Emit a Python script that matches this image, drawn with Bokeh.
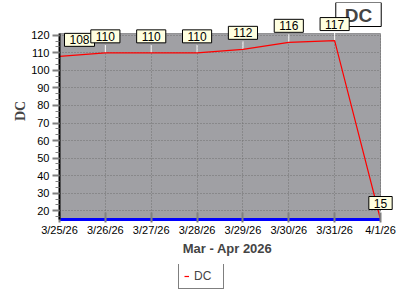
from bokeh.plotting import figure
from bokeh.layouts import column
from bokeh.models import (ColumnDataSource, Label, Legend, LegendItem,
                          FixedTicker, Range1d, BoxAnnotation)
from bokeh.embed import file_html
from bokeh.resources import INLINE

# ---- data ----
dates = ["3/25/26", "3/26/26", "3/27/26", "3/28/26", "3/29/26", "3/30/26", "3/31/26", "4/1/26"]
dc_values = [108, 110, 110, 110, 112, 116, 117, 15]
y_ticks = [20, 30, 40, 50, 60, 70, 80, 90, 100, 110, 120]
y_min, y_max = 15, 121
series_name = "DC"
x_title = "Mar - Apr 2026"

xs = list(range(len(dates)))
x_lo, x_hi = xs[0], xs[-1]
src = ColumnDataSource(dict(x=xs, y=dc_values,
                            ytop=[v + 4.6 for v in dc_values]))

FONT = "Liberation Sans"

# frame extends above/right of the plotting area so value labels and the title box are not clipped
p = figure(width=400, height=264, output_backend="svg", toolbar_location=None,
           x_range=Range1d(x_lo, x_hi + 0.327), y_range=Range1d(y_min, 138.7),
           min_border_left=59, min_border_right=5, min_border_top=2,
           min_border_bottom=45)
p.title.visible = False
p.background_fill_color = "white"
p.border_fill_color = "white"
p.outline_line_color = None

# gray plotting area
p.add_layout(BoxAnnotation(bottom=y_min, top=y_max, left=x_lo, right=x_hi,
                           fill_color="#A0A0A4", fill_alpha=1,
                           line_color="black", line_width=1, level="image"))

# grids
for g in (p.xgrid, p.ygrid):
    g.grid_line_color = "#707070"
    g.grid_line_dash = "1 2"
    g.grid_line_width = 1
p.xgrid.ticker = FixedTicker(ticks=xs)
p.xgrid.cross_bounds = (y_min, y_max)
p.ygrid.ticker = FixedTicker(ticks=y_ticks)
p.ygrid.cross_bounds = (x_lo, x_hi)

# x axis
xa = p.xaxis[0]
xa.bounds = (x_lo, x_hi)
xa.ticker = FixedTicker(ticks=xs)
xa.major_label_overrides = {i: d for i, d in enumerate(dates)}
xa.axis_line_color = "#0000FF"
xa.axis_line_width = 3
xa.major_tick_line_color = "#808080"
xa.major_tick_line_width = 2
xa.major_tick_in = 7
xa.major_tick_out = 3
xa.minor_tick_line_color = None
xa.major_label_text_font = FONT
xa.major_label_text_font_size = "11px"
xa.major_label_text_color = "black"
xa.major_label_standoff = 1
xa.axis_label = x_title
xa.axis_label_text_font = FONT
xa.axis_label_text_font_style = "bold"
xa.axis_label_text_font_size = "13px"
xa.axis_label_standoff = 2

# y axis
ya = p.yaxis[0]
ya.bounds = (y_min, y_max)
ya.ticker = FixedTicker(ticks=y_ticks, minor_ticks=[v / 3 * 10 for v in range(5, 37)])
ya.axis_line_color = "black"
ya.axis_line_width = 2
ya.major_tick_line_color = "#808080"
ya.major_tick_line_width = 2
ya.major_tick_in = 0
ya.major_tick_out = 7
ya.minor_tick_line_color = "#808080"
ya.minor_tick_in = 0
ya.minor_tick_out = 4
ya.major_label_text_font = FONT
ya.major_label_text_font_size = "11px"
ya.major_label_text_color = "black"
ya.major_label_standoff = 3
ya.axis_label = series_name
ya.axis_label_text_font = "Liberation Serif"
ya.axis_label_text_font_style = "bold"
ya.axis_label_text_font_size = "14px"
ya.axis_label_standoff = 0

# connectors + line
p.segment(x0="x", y0="y", x1="x", y1="ytop", source=src, line_color="white", line_width=1)
p.line("x", "y", source=src, line_color="red", line_width=1.2)

# title box (drawn first so that value labels sit on top of it)
title = Label(x=299, y=205, x_units="screen", y_units="screen", text=series_name,
              text_align="center", text_baseline="middle",
              text_font=FONT, text_font_style="bold", text_font_size="19px",
              background_fill_color="white", border_line_color="black",
              border_line_width=1, padding=(9, 9, 2, 1))
p.add_layout(title)

for i, (xi, v) in enumerate(zip(xs, dc_values)):
    first = i == 0
    p.add_layout(Label(x=xi, y=v, y_offset=10, x_offset=5 if first else 0, text=str(v),
                       text_align="left" if first else "center", text_baseline="bottom",
                       text_font=FONT, text_font_size="12px", text_color="black",
                       background_fill_color="#FFFFE0", border_line_color="black",
                       border_line_width=1, padding=(5, 5, 2, 2)))

# legend strip below the chart (its series line lies outside the visible range)
p2 = figure(width=400, height=36, output_backend="svg", toolbar_location=None,
            min_border=0, x_range=Range1d(1000, 1001), y_range=Range1d(1000, 1001))
p2.axis.visible = False
p2.grid.visible = False
p2.outline_line_color = None
p2.background_fill_color = "white"
p2.border_fill_color = "white"
r2 = p2.line("x", "y", source=src, line_color="red", line_width=1.2)
legend = Legend(items=[LegendItem(label=series_name, renderers=[r2])],
                location=(119, 11), orientation="horizontal",
                background_fill_color="white", background_fill_alpha=1,
                border_line_color="black", border_line_width=1,
                label_text_font=FONT, label_text_font_size="12px",
                glyph_width=5, glyph_height=12, label_height=12, label_width=24,
                label_standoff=5, padding=5, margin=0, spacing=0)
p2.add_layout(legend)

layout = column(p, p2, spacing=0)
open("out.html", "w").write(file_html(layout, INLINE))
